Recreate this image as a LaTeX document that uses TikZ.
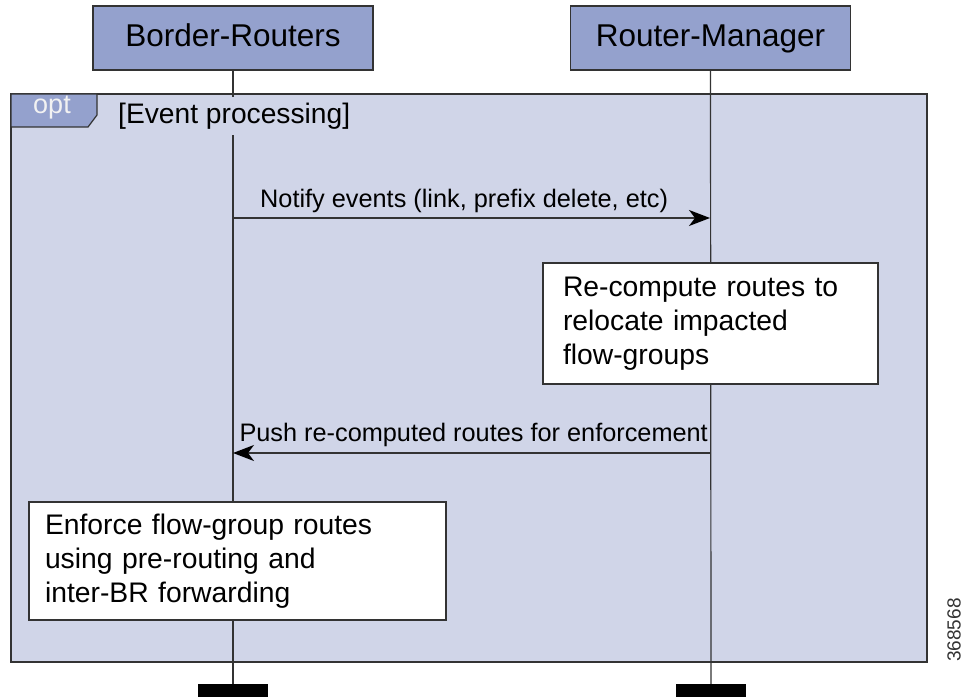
\documentclass[tikz,border=0pt]{standalone}
\usepackage{fontspec}
\setmainfont{Liberation Sans}
\usetikzlibrary{arrows.meta}
\definecolor{partfill}{HTML}{94A1CD}
\definecolor{framefill}{HTML}{D0D5E8}
\definecolor{linecol}{HTML}{333333}
\tikzset{
  part/.style={draw=linecol,line width=1.2pt,fill=partfill,minimum width=280pt,minimum height=64pt,inner sep=0pt,text height=23pt,text depth=6pt,font=\fontsize{31.5}{37}\selectfont},
  life/.style={draw=linecol,line width=1.2pt},
  msg/.style={draw=linecol,line width=1.5pt,-{Stealth[length=21pt,width=16pt,inset=6pt,black]}},
  msglabel/.style={font=\fontsize{25.3}{30}\selectfont,inner sep=0pt},
  notebox/.style={draw=linecol,line width=1.2pt,fill=white,align=left,font=\fontsize{28.3}{34}\selectfont,inner ysep=0pt},
  bar/.style={fill=black,minimum width=70pt,minimum height=13pt,inner sep=0pt},
}
\begin{document}
\begin{tikzpicture}[x=1pt,y=-1pt]
\useasboundingbox (0,0) rectangle (964,698);
% frame
\fill[framefill] (11,94) rectangle (927,662);
% participants
\node[part] (br) at (233,38) {Border-Routers};
\node[part] (rm) at (710.5,38) {Router-Manager};
% end bars
\node[bar] (brend) at (233,690.5) {};
\node[bar] (rmend) at (711,690.5) {};
% lifelines
\draw[life] (br.south) -- (brend.north);
\draw[life] (rm.south) -- (rmend.north);
% frame border
\draw[linecol,line width=1.4pt] (11,94) rectangle (927,662);
% opt tab
\draw[linecol,line width=1.2pt,fill=partfill] (11,94) -- (97,94) -- (97,115) -- (88,127) -- (11,127) -- cycle;
\node[font=\fontsize{27}{30}\selectfont,inner sep=0pt,text=white!95!black] (opt) at (52,108) {opt};
\node[font=\fontsize{28.2}{32}\selectfont,fill=framefill,inner xsep=2pt,inner ysep=0pt,minimum height=38pt,anchor=west] (guard) at (116,116) {[Event processing]};
% messages
\coordinate (m1s) at (233,218);
\coordinate (m1e) at (710,218);
\draw[msg] (m1s) -- (m1e);
\node[msglabel,anchor=base west] (m1l) at (260,207) {Notify events (link, prefix delete, etc)};
\coordinate (m2s) at (710,453);
\coordinate (m2e) at (233,453);
\draw[msg] (m2s) -- (m2e);
\node[msglabel,anchor=base east] (m2l) at (708,441) {Push re-computed routes for enforcement};
% notes
\node[notebox,minimum width=335pt,minimum height=121pt,text width=295pt,inner xsep=20pt] (recomp) at (710.5,323.5)
  {Re-compute routes to\\relocate impacted\\flow-groups};
\node[notebox,minimum width=417pt,minimum height=118pt,text width=385pt,inner xsep=16pt] (enforce) at (237.5,561)
  {Enforce flow-group routes\\using pre-routing and\\inter-BR forwarding};
% figure id
\node[rotate=90,font=\fontsize{19}{22}\selectfont,text=linecol,inner sep=0pt] (figid) at (954,630) {368568};
\end{tikzpicture}
\end{document}
